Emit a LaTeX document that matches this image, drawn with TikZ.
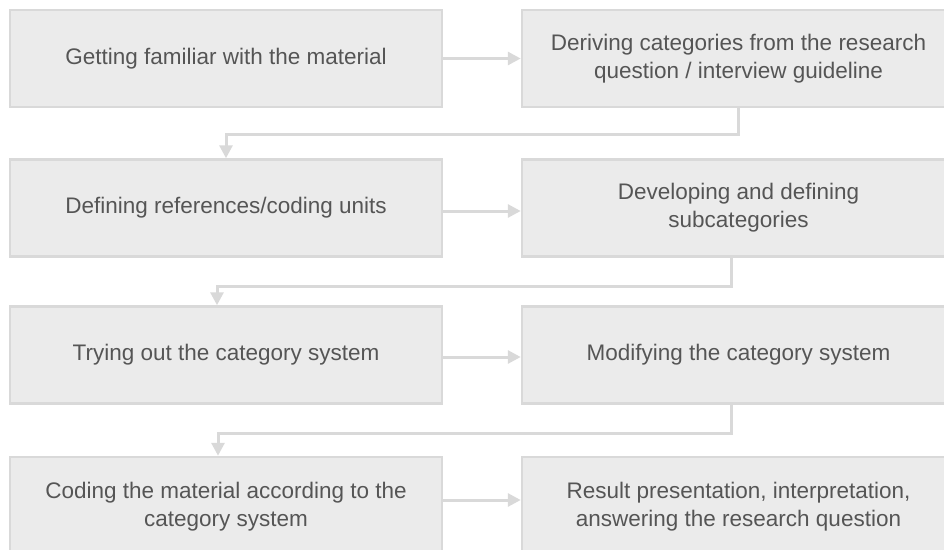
\documentclass[tikz,border=0pt]{standalone}
\usepackage{fontspec}
\setmainfont{Liberation Sans}
\usetikzlibrary{arrows.meta}
\definecolor{boxfill}{HTML}{EBEBEB}
\definecolor{boxline}{HTML}{D9D9D9}
\definecolor{txt}{HTML}{555555}
\tikzset{
  stepbox/.style={draw=boxline, fill=boxfill, line width=2.5pt, minimum height=97pt,
    align=center, text=txt, font=\fontsize{22.5pt}{28pt}\selectfont, inner sep=0pt},
  leftbox/.style={stepbox, minimum width=432pt},
  rightbox/.style={stepbox, minimum width=433pt},
  flow/.style={draw=boxline, line width=3pt, -{Triangle[length=13pt,width=13pt]}}
}
\begin{document}
\begin{tikzpicture}[x=1pt,y=-1pt]
\useasboundingbox (0,0) rectangle (944,549);
\clip (0,0) rectangle (944,549);
\node[leftbox]  (l1) at (226,58.5) {Getting familiar with the material};
\node[rightbox] (r1) at (738.5,58.5) {Deriving categories from the research\\question / interview guideline};
\node[leftbox]  (l2) at (226,208) {Defining references/coding units};
\node[rightbox] (r2) at (738.5,208) {Developing and defining\\subcategories};
\node[leftbox]  (l3) at (226,355) {Trying out the category system};
\node[rightbox] (r3) at (738.5,355) {Modifying the category system};
\node[leftbox, minimum height=100pt]  (l4) at (226,507) {Coding the material according to the\\category system};
\node[rightbox, minimum height=100pt] (r4) at (738.5,507) {Result presentation, interpretation,\\answering the research question};
\draw[flow] (l1.east) -- (r1.west);
\draw[flow] ([yshift=-3pt]l2.east) -- ([yshift=-3pt]r2.west);
\draw[flow] ([yshift=-2pt]l3.east) -- ([yshift=-2pt]r3.west);
\draw[flow] ([yshift=7pt]l4.east) -- ([yshift=7pt]r4.west);
\draw[flow] (r1.south) -- ++(0,26) -| (l2.north);
\draw[flow] ([xshift=-7.5pt]r2.south) -- ++(0,29) -| ([xshift=-9pt]l3.north);
\draw[flow] ([xshift=-7.5pt]r3.south) -- ++(0,29) -| ([xshift=-8pt]l4.north);
\end{tikzpicture}
\end{document}
